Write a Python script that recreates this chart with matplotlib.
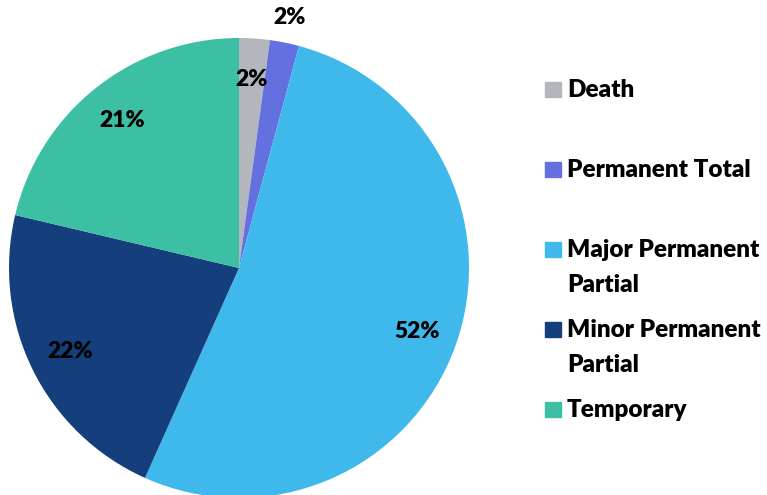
import matplotlib.pyplot as plt
import numpy as np
from matplotlib.patches import Rectangle

plt.rcParams['font.family'] = ['Lato', 'DejaVu Sans']

labels = ['Death', 'Permanent Total', 'Major Permanent\nPartial',
          'Minor Permanent\nPartial', 'Temporary']
shares = [2.15, 2.05, 52.5, 22.0, 21.3]
colors = ['#B3B6BD', '#6470E0', '#3FB9EC', '#143F7C', '#3DBFA3']

W, H = 767, 495
fig = plt.figure(figsize=(W / 100, H / 100), dpi=100)

# pie axes: square in pixels, centred near (239, 268)
cx, cy, r = 239, 268, 230
ax = fig.add_axes([(cx - r) / W, (H - cy - r) / H, 2 * r / W, 2 * r / H])
wedges, texts, autotexts = ax.pie(
    shares, colors=colors, startangle=90, counterclock=False,
    autopct='%1.0f%%', pctdistance=0.82,
    textprops=dict(fontsize=16.5, fontweight='heavy', color='black'),
    wedgeprops=dict(linewidth=0))
ax.set_xlim(-1, 1)
ax.set_ylim(-1, 1)
ax.axis('off')

# the small "Permanent Total" label sits outside the pie
w = wedges[1]
mid = np.deg2rad((w.theta1 + w.theta2) / 2)
autotexts[1].set_position((1.11 * np.cos(mid), 1.11 * np.sin(mid)))

# legend drawn by hand: one 80 px slot per entry
x0 = 545
for i, (lab, col) in enumerate(zip(labels, colors)):
    y = 89 + 80 * i
    fig.patches.append(Rectangle((x0 / W, 1 - (y + 8) / H), 16 / W, 15 / H,
                                 transform=fig.transFigure, color=col))
    fig.text((x0 + 22) / W, 1 - (y - 10) / H, lab, fontsize=17.5,
             fontweight='heavy', va='top', ha='left', linespacing=1.7)

fig.savefig('out.png', dpi=100)
